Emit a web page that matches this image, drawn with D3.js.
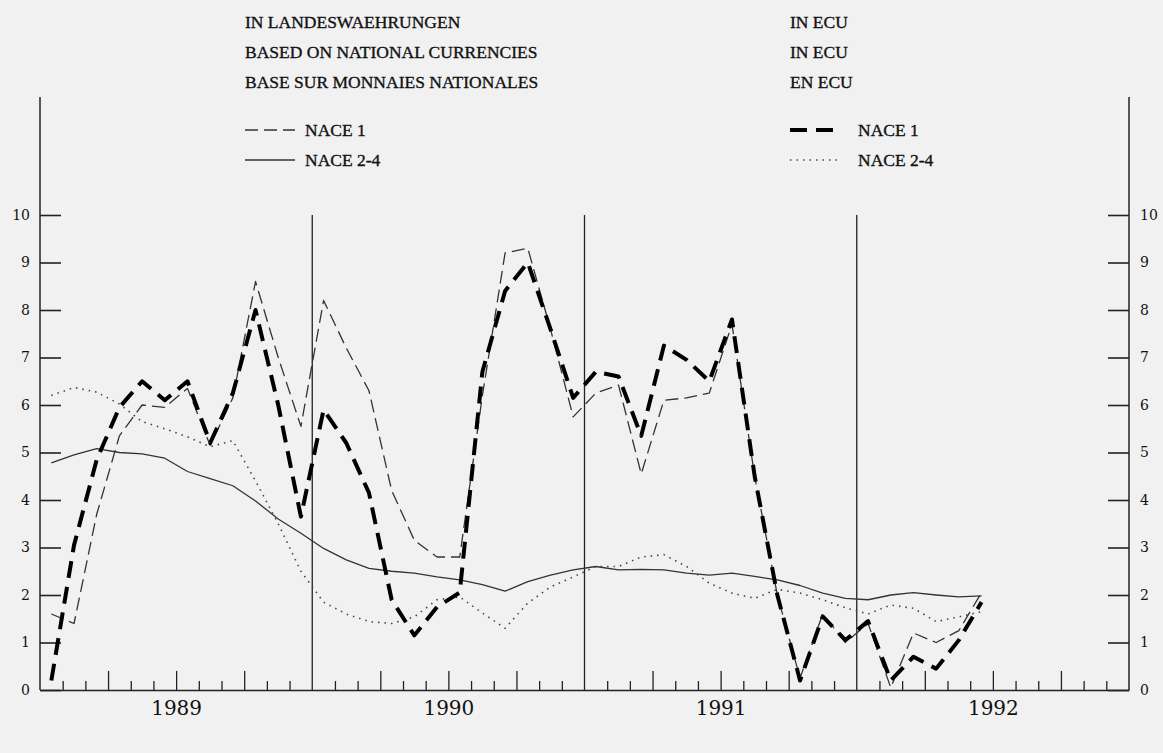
<!DOCTYPE html>
<html>
<head>
<meta charset="utf-8">
<script src="https://cdn.jsdelivr.net/npm/d3@7"></script>
<style>
  html, body { margin: 0; padding: 0; background: #f1f1f1; }
  svg { display: block; }
  text { font-family: "Liberation Serif", "DejaVu Serif", serif; fill: #111; }
</style>
</head>
<body>
<svg id="chart" width="1163" height="753"></svg>
<script>
// ---- data (monthly, Jan 1989 - Jun 1992) ----
const yearLabels = ["1989", "1990", "1991", "1992"];
const yTicks = [0, 1, 2, 3, 4, 5, 6, 7, 8, 9, 10];

// In national currencies
const natNace1 = [
  1.6, 1.4, 3.7, 5.35, 6.0, 5.95, 6.35, 5.15, 6.15, 8.6, 7.0, 5.55,
  8.2, 7.2, 6.3, 4.2, 3.15, 2.8, 2.8, 6.2, 9.2, 9.3, 7.6, 5.75,
  6.25, 6.42, 4.55, 6.1, 6.15, 6.25, 7.7, 4.5, 2.0, 0.25, 1.6, 1.0,
  1.4, 0.05, 1.2, 1.0, 1.25, 2.05
];
const natNace24 = [
  4.78, 4.95, 5.08, 5.0, 4.97, 4.88, 4.6, 4.45, 4.3, 3.98, 3.6, 3.3,
  2.98, 2.74, 2.56, 2.5, 2.46, 2.38, 2.32, 2.22, 2.08, 2.28, 2.42, 2.53,
  2.6, 2.53, 2.54, 2.53, 2.46, 2.42, 2.46, 2.39, 2.32, 2.2, 2.04, 1.93,
  1.9, 2.0, 2.05, 2.0, 1.96, 1.98
];
// In ECU
const ecuNace1 = [
  0.2, 3.05, 4.85, 5.95, 6.5, 6.1, 6.5, 5.2, 6.25, 8.0, 6.0, 3.65,
  5.9, 5.2, 4.15, 1.9, 1.15, 1.75, 2.05, 6.7, 8.4, 9.0, 7.6, 6.15,
  6.7, 6.6, 5.35, 7.25, 6.95, 6.5, 7.8, 4.5, 2.0, 0.2, 1.55, 1.05,
  1.45, 0.2, 0.7, 0.45, 1.05, 1.85
];
const ecuNace24 = [
  6.2, 6.37, 6.27, 6.02, 5.65, 5.5, 5.33, 5.12, 5.25, 4.4, 3.5, 2.5,
  1.85, 1.6, 1.44, 1.4, 1.54, 1.9, 1.96, 1.62, 1.3, 1.83, 2.17, 2.38,
  2.6, 2.6, 2.8, 2.85, 2.6, 2.25, 2.04, 1.93, 2.12, 2.04, 1.9, 1.73,
  1.6, 1.79, 1.72, 1.44, 1.54, 1.65
];

const headLeft = ["IN LANDESWAEHRUNGEN", "BASED ON NATIONAL CURRENCIES", "BASE SUR MONNAIES NATIONALES"];
const headRight = ["IN ECU", "IN ECU", "EN ECU"];
const legendLabels = ["NACE 1", "NACE 2-4"];

// ---- styles ----
const styles = {
  natNace1: { stroke: "#333", width: 1.3, dash: "13,6" },
  natNace24: { stroke: "#333", width: 1.3, dash: null },
  ecuNace1: { stroke: "#000", width: 4, dash: "17,9" },
  ecuNace24: { stroke: "#444", width: 1.6, dash: "1.5,5" }
};

const svg = d3.select("#chart");
const x = d3.scaleLinear().domain([0, 48]).range([40, 1129]);
const y = d3.scaleLinear().domain([0, 10]).range([690, 215]);

const axisColor = "#222";
const fontH = '"Liberation Serif", serif';
const fontN = '"DejaVu Serif", serif';

// left/right axis lines (extended above 10)
svg.append("line").attr("x1", x(0)).attr("x2", x(0)).attr("y1", 97).attr("y2", y(0))
  .attr("stroke", axisColor).attr("stroke-width", 1.5);
svg.append("line").attr("x1", x(48)).attr("x2", x(48)).attr("y1", 97).attr("y2", y(0))
  .attr("stroke", axisColor).attr("stroke-width", 1.5);

// y axes
const gL = svg.append("g").attr("transform", `translate(${x(0)},0)`)
  .call(d3.axisLeft(y).tickValues(yTicks).tickSizeInner(-21).tickSizeOuter(0).tickPadding(10).tickFormat(d3.format("d")));
const gR = svg.append("g").attr("transform", `translate(${x(48)},0)`)
  .call(d3.axisRight(y).tickValues(yTicks).tickSizeInner(-21).tickSizeOuter(0).tickPadding(10).tickFormat(d3.format("d")));
[gL, gR].forEach(g => {
  g.select(".domain").remove();
  g.selectAll(".tick line").attr("stroke", axisColor).attr("stroke-width", 1.6);
  g.selectAll(".tick text").style("font-family", fontN)
    .style("font-size", "14px").attr("fill", "#111");
});
gL.selectAll(".tick text").attr("x", -10);
gR.selectAll(".tick text").attr("x", 11);

// bottom axis: monthly ticks
const monthTicks = d3.range(1, 48).filter(m => m % 12 !== 0);
const gB = svg.append("g").attr("transform", `translate(0,${y(0)})`)
  .call(d3.axisBottom(x).tickValues(monthTicks).tickSizeInner(-9).tickSizeOuter(0).tickFormat(""));
gB.select(".domain").attr("stroke", axisColor).attr("stroke-width", 1.6);
gB.selectAll(".tick line").attr("stroke", axisColor).attr("stroke-width", 1.3)
  .attr("y2", d => (d % 3 === 0 ? -19 : -9));

// year labels
const gY = svg.append("g").attr("transform", `translate(0,${y(0)})`)
  .call(d3.axisBottom(x).tickValues([6, 18, 30, 42]).tickSize(0).tickPadding(11)
    .tickFormat((d, i) => yearLabels[i]));
gY.select(".domain").remove();
gY.selectAll(".tick text").style("font-family", fontN)
  .style("font-size", "20px").attr("fill", "#111");

// year boundary lines
svg.append("g").selectAll("line").data([12, 24, 36]).join("line")
  .attr("x1", d => x(d)).attr("x2", d => x(d))
  .attr("y1", y(0)).attr("y2", y(10))
  .attr("stroke", axisColor).attr("stroke-width", 1.3);

// series
const series = [
  { key: "natNace24", values: natNace24 },
  { key: "ecuNace24", values: ecuNace24 },
  { key: "natNace1", values: natNace1 },
  { key: "ecuNace1", values: ecuNace1 }
];
const line = d3.line().x((d, i) => x(i + 0.5)).y(d => y(d));
series.forEach(s => {
  const st = styles[s.key];
  svg.append("path").datum(s.values)
    .attr("d", line)
    .attr("fill", "none")
    .attr("stroke", st.stroke)
    .attr("stroke-width", st.width)
    .attr("stroke-dasharray", st.dash)
    .attr("stroke-linejoin", "round");
});

// headers
function header(x0, lines) {
  svg.append("g").selectAll("text").data(lines).join("text")
    .attr("x", x0).attr("y", (d, i) => 28 + i * 30)
    .style("font-family", fontH).style("font-size", "17.5px")
    .attr("stroke", "#111").attr("stroke-width", 0.35)
    .text(d => d);
}
header(245, headLeft);
header(790, headRight);

// legends
function legend(x0, x1, tx, keys) {
  keys.forEach((k, i) => {
    const st = styles[k];
    const yy = 130 + i * 30;
    svg.append("line").attr("x1", x0).attr("x2", x1).attr("y1", yy).attr("y2", yy)
      .attr("stroke", st.stroke).attr("stroke-width", st.width).attr("stroke-dasharray", st.dash);
    svg.append("text").attr("x", tx).attr("y", yy + 6)
      .style("font-family", fontH).style("font-size", "17.5px")
      .attr("stroke", "#111").attr("stroke-width", 0.35)
      .text(legendLabels[i]);
  });
}
legend(245, 295, 305, ["natNace1", "natNace24"]);
legend(790, 842, 858, ["ecuNace1", "ecuNace24"]);
</script>
</body>
</html>
